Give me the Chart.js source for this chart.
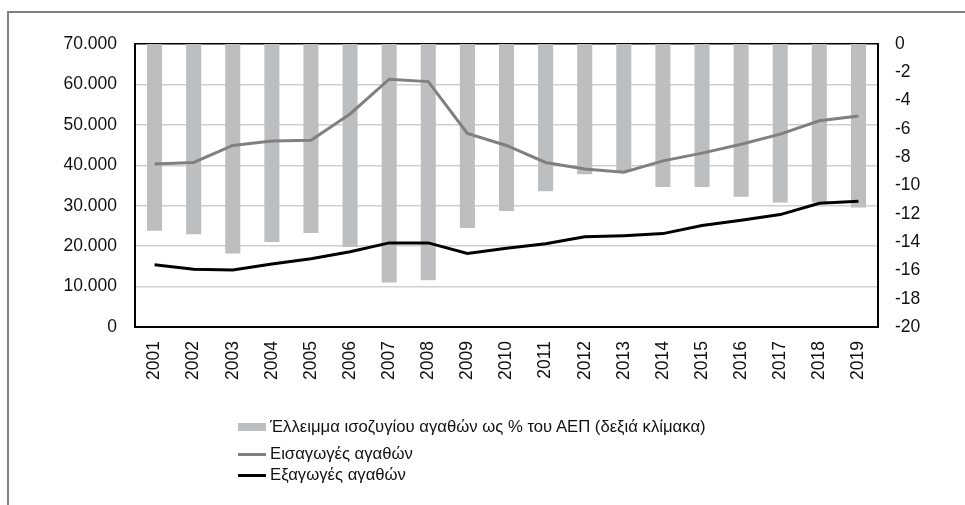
<!DOCTYPE html>
<html>
<head>
<meta charset="utf-8">
<script src="https://cdn.jsdelivr.net/npm/chart.js@4"></script>
<style>
    html, body { margin: 0; padding: 0; background: #fff; }
    body { width: 965px; height: 505px; position: relative; overflow: hidden; font-family: "Liberation Sans", Arial, sans-serif; }
    .marco { position: absolute; left: 7px; top: 11px; right: -10px; bottom: -10px; border-left: 2px solid #808080; border-top: 2px solid #808080; }
    .chart-container { position: absolute; left: 0; top: 0; width: 965px; height: 505px; }
    .leyenda { position: absolute; left: 238px; top: 0; font-size: 16.7px; color: #111; }
    .fila { position: absolute; left: 0; white-space: nowrap; height: 20px; }
    .fila span.txt { position: absolute; left: 32px; top: 0; line-height: 20px; }
    .swatch { position: absolute; left: 0; }
</style>
</head>
<body>
<div class="marco"></div>
<div class="chart-container"><canvas id="chartComercio"></canvas></div>
<div class="leyenda" id="leyenda"></div>

<script>
// Datos
const anios = ['2001', '2002', '2003', '2004', '2005', '2006', '2007', '2008', '2009', '2010',
    '2011', '2012', '2013', '2014', '2015', '2016', '2017', '2018', '2019']
const deficit = [-13.2, -13.45, -14.8, -14.0, -13.35, -14.35, -16.85, -16.7, -13.0, -11.8,
    -10.4, -9.2, -9.0, -10.1, -10.1, -10.8, -11.2, -11.2, -11.55]
const importaciones = [40300, 40700, 44900, 46000, 46200, 52700, 61300, 60700, 47900, 44900,
    40700, 39100, 38300, 41100, 43000, 45200, 47700, 51000, 52200]
const exportaciones = [15400, 14300, 14100, 15600, 16900, 18600, 20800, 20800, 18200, 19500,
    20600, 22300, 22600, 23100, 25100, 26400, 27800, 30600, 31100]
const nombres = [
    'Έλλειμμα ισοζυγίου αγαθών ως % του ΑΕΠ (δεξιά κλίμακα)',
    'Εισαγωγές αγαθών',
    'Εξαγωγές αγαθών'
]

const colorBarra = '#bdbec0'
const colorImp = '#808080'
const colorExp = '#000000'

// Formato de miles con punto
function miles(v) {
    return String(v).replace(/\B(?=(\d{3})+(?!\d))/g, '.')
}

const fuente = { family: '"Liberation Sans", Arial, sans-serif', size: 17.5 }

const ctx = document.getElementById('chartComercio').getContext('2d')
const chart = new Chart(ctx, {
    data: {
        labels: anios,
        datasets: [
            {
                type: 'line',
                label: nombres[2],
                data: exportaciones,
                borderColor: colorExp,
                borderWidth: 3,
                pointRadius: 0,
                yAxisID: 'y',
                order: 0
            },
            {
                type: 'line',
                label: nombres[1],
                data: importaciones,
                borderColor: colorImp,
                borderWidth: 3,
                pointRadius: 0,
                yAxisID: 'y',
                order: 1
            },
            {
                type: 'bar',
                label: nombres[0],
                data: deficit,
                backgroundColor: colorBarra,
                borderWidth: 0,
                barPercentage: 0.385,
                categoryPercentage: 1,
                yAxisID: 'y1',
                order: 2
            }
        ]
    },
    options: {
        responsive: true,
        maintainAspectRatio: false,
        animation: false,
        layout: { padding: { top: 44, left: 0, right: 0, bottom: 0 } },
        plugins: {
            legend: { display: false },
            tooltip: { enabled: false }
        },
        scales: {
            x: {
                grid: { display: false, drawTicks: false },
                border: { color: '#000', width: 2 },
                ticks: {
                    color: '#111',
                    font: fuente,
                    minRotation: 90,
                    maxRotation: 90,
                    padding: 14
                },
                afterFit: (scale) => { scale.height = 178 }
            },
            y: {
                position: 'left',
                min: 0,
                max: 70000,
                ticks: {
                    stepSize: 10000,
                    color: '#111',
                    font: fuente,
                    padding: 18,
                    callback: (v) => miles(v)
                },
                grid: {
                    drawTicks: false,
                    lineWidth: 1.5,
                    color: (c) => c.tick && c.tick.value === 70000 ? '#000' : '#cfcfcf'
                },
                border: { color: '#000', width: 2 },
                afterFit: (scale) => { scale.width = 135 }
            },
            y1: {
                position: 'right',
                min: -20,
                max: 0,
                ticks: {
                    stepSize: 2,
                    color: '#111',
                    font: fuente,
                    padding: 17
                },
                grid: { display: false, drawTicks: false },
                border: { color: '#000', width: 2 },
                afterFit: (scale) => { scale.width = 87 }
            }
        }
    }
})

// Leyenda
const filas = [
    { top: 417, html: `<div class="swatch" style="top:6px;width:28px;height:8px;background:${colorBarra}"></div>` },
    { top: 444, html: `<div class="swatch" style="top:9px;width:28px;height:3px;background:${colorImp}"></div>` },
    { top: 465, html: `<div class="swatch" style="top:9px;width:28px;height:3px;background:${colorExp}"></div>` }
]
const leyenda = document.getElementById('leyenda')
filas.forEach((f, i) => {
    const div = document.createElement('div')
    div.className = 'fila'
    div.style.top = f.top + 'px'
    div.innerHTML = f.html + `<span class="txt">${nombres[i]}</span>`
    leyenda.appendChild(div)
})
</script>
</body>
</html>
